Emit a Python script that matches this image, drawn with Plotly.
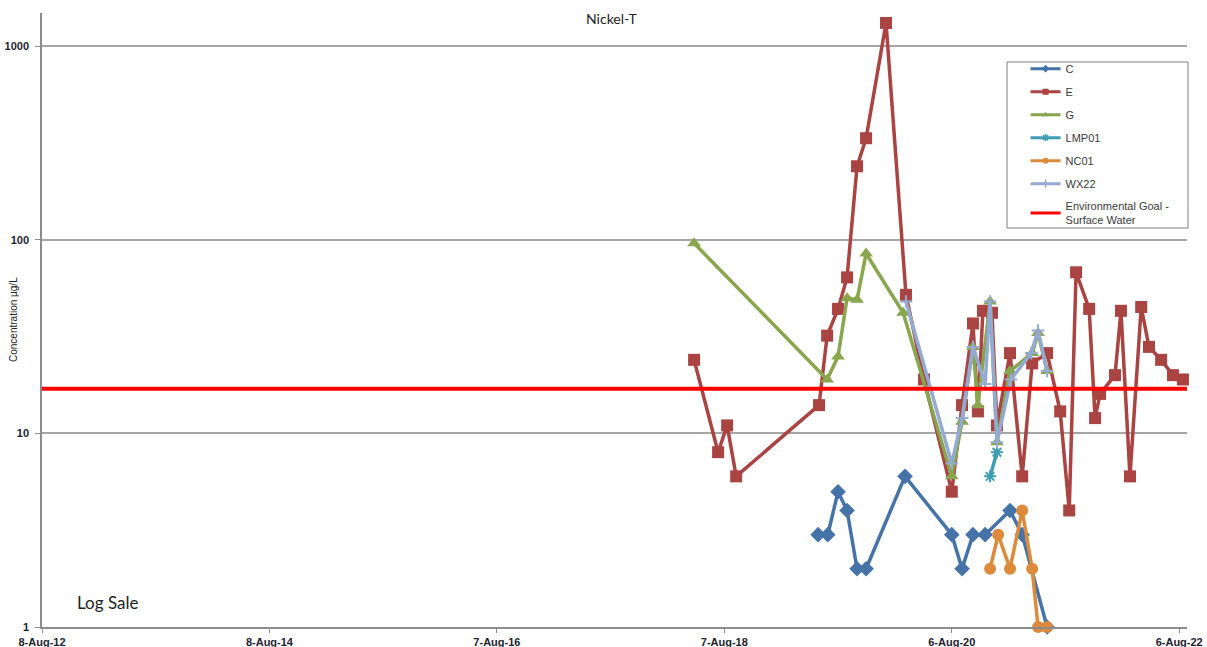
import plotly.graph_objects as go

# ---------------- data ----------------
dates_C = ["2019-06-04", "2019-07-05", "2019-08-07", "2019-09-05", "2019-10-07", "2019-11-05",
           "2020-03-09", "2020-08-06", "2020-09-08", "2020-10-13", "2020-11-21", "2021-02-09",
           "2021-03-20", "2021-06-08"]
vals_C = [3, 3, 5, 4, 2, 2, 6, 3, 2, 3, 3, 4, 3, 1]

dates_E = ["2018-05-02", "2018-07-18", "2018-08-16", "2018-09-14", "2019-06-07", "2019-07-03",
           "2019-08-07", "2019-09-05", "2019-10-07", "2019-11-05", "2020-01-08", "2020-03-12",
           "2020-05-09", "2020-08-06", "2020-09-08", "2020-10-13", "2020-10-29", "2020-11-14",
           "2020-12-13", "2020-12-29", "2021-02-09", "2021-03-20", "2021-04-21", "2021-06-08",
           "2021-07-20", "2021-08-18", "2021-09-09", "2021-10-21", "2021-11-09", "2021-11-25",
           "2022-01-12", "2022-01-31", "2022-03-01", "2022-04-06", "2022-05-01", "2022-06-09",
           "2022-07-17", "2022-08-18"]
vals_E = [24, 8, 11, 6, 14, 32, 44, 64, 240, 335, 1320, 52, 19, 5, 14, 37, 13, 43, 42, 11,
          26, 6, 23, 26, 13, 4, 68, 44, 12, 16, 20, 43, 6, 45, 28, 24, 20, 19]

dates_G = ["2018-05-02", "2019-07-03", "2019-08-07", "2019-09-05", "2019-10-07", "2019-11-05",
           "2020-03-03", "2020-08-06", "2020-09-08", "2020-10-13", "2020-10-29", "2020-12-07",
           "2020-12-29", "2021-02-09", "2021-04-21", "2021-05-10", "2021-06-08"]
vals_G = [96, 19, 25, 50, 49, 85, 42, 6, 11.5, 28, 14, 48, 9, 21, 26, 33, 21]

dates_LMP01 = ["2020-12-07", "2020-12-29"]
vals_LMP01 = [6, 8]

dates_NC01 = ["2020-12-07", "2021-01-02", "2021-02-09", "2021-03-20", "2021-04-21",
              "2021-05-10", "2021-06-08"]
vals_NC01 = [2, 3, 2, 4, 2, 1, 1]

dates_WX22 = ["2020-03-12", "2020-08-06", "2020-09-08", "2020-10-13", "2020-11-21",
              "2020-12-07", "2020-12-29", "2021-02-12", "2021-04-18", "2021-05-10", "2021-06-08"]
vals_WX22 = [48, 7, 12, 28, 18, 48, 9, 19, 26, 34, 21]

env_goal = 17
x_range = ["2012-08-08", "2022-08-31"]

x_tickvals = ["2012-08-08", "2014-08-08", "2016-08-07", "2018-08-07", "2020-08-06", "2022-08-06"]
x_ticktext = ["8-Aug-12", "8-Aug-14", "7-Aug-16", "7-Aug-18", "6-Aug-20", "6-Aug-22"]
y_tickvals = [1, 10, 100, 1000]
y_ticktext = ["1", "10", "100", "1000"]

# ---------------- styles ----------------
series = [
    ("C", dates_C, vals_C, "#4573A8", "diamond", 12),
    ("E", dates_E, vals_E, "#A94442", "square", 12),
    ("G", dates_G, vals_G, "#89A54E", "triangle-up", 12),
    ("LMP01", dates_LMP01, vals_LMP01, "#3F9DB3", "asterisk-open", 10),
    ("NC01", dates_NC01, vals_NC01, "#DD8A3C", "circle", 12),
    ("WX22", dates_WX22, vals_WX22, "#93AAD2", "cross-thin-open", 9),
]

fig = go.Figure()

for name, xs, ys, color, sym, size in series:
    open_sym = sym.endswith("open")
    fig.add_trace(go.Scatter(
        x=xs, y=ys, name=name, mode="lines+markers",
        line=dict(color=color, width=3.5),
        marker=dict(symbol=sym, size=size, color=color,
                    line=dict(color=color, width=2 if open_sym else 0)),
        showlegend=False, cliponaxis=False,
    ))

fig.add_trace(go.Scatter(
    x=x_range, y=[env_goal, env_goal], mode="lines",
    name="Environmental Goal -<br>Surface Water",
    line=dict(color="#FF0000", width=4), showlegend=False,
))

# legend-only entries with small markers
for name, xs, ys, color, sym, size in series:
    open_sym = sym.endswith("open")
    fig.add_trace(go.Scatter(
        x=[None], y=[None], name=name, mode="lines+markers", legendgroup=name,
        line=dict(color=color, width=3),
        marker=dict(symbol=sym, size=6, color=color,
                    line=dict(color=color, width=1.5 if open_sym else 0)),
    ))
fig.add_trace(go.Scatter(
    x=[None], y=[None], mode="lines", legendgroup="env",
    name="Environmental Goal -<br>Surface Water",
    line=dict(color="#FF0000", width=3),
))

axis_font = dict(family="Liberation Sans, Arial", size=11, color="#1e1e2e", weight="bold")

fig.update_layout(
    width=1207, height=647,
    margin=dict(l=42, r=20, t=13, b=20, autoexpand=False),
    paper_bgcolor="white", plot_bgcolor="white",
    showlegend=True,
    legend=dict(
        x=0.859, y=0.933, xanchor="left", yanchor="top",
        bgcolor="rgba(0,0,0,0)", borderwidth=0,
        font=dict(family="Liberation Sans, Arial", size=11, color="#3a3a3a"),
        tracegroupgap=4, itemwidth=30,
    ),
    xaxis=dict(
        type="date", range=x_range, automargin=False,
        tickvals=x_tickvals, ticktext=x_ticktext,
        showgrid=False, zeroline=False,
        showline=True, linecolor="#8c8c8c", linewidth=1.5,
        ticks="outside", ticklen=4, tickcolor="#8c8c8c",
        tickfont=axis_font,
    ),
    yaxis=dict(
        type="log", range=[0, 3.172], automargin=False,
        tickvals=y_tickvals, ticktext=y_ticktext,
        showgrid=True, gridcolor="#a6a6a6", gridwidth=1.5,
        zeroline=False,
        showline=True, linecolor="#8c8c8c", linewidth=1.5,
        ticks="outside", ticklen=5, tickcolor="#8c8c8c",
        ticklabelstandoff=4,
        tickfont=axis_font,
    ),
    shapes=[dict(type="rect", xref="paper", yref="paper",
                 x0=(1007 - 42) / 1145, x1=(1188 - 42) / 1145,
                 y0=(627 - 228) / 614, y1=(627 - 62) / 614,
                 line=dict(color="#7f7f7f", width=1), fillcolor="rgba(0,0,0,0)")],
    annotations=[
        dict(text="Nickel-T", xref="paper", yref="paper", x=(611 - 42) / 1145, y=(627 - 18) / 614,
             showarrow=False, xanchor="center", yanchor="middle",
             font=dict(family="Lato, Open Sans", size=14, color="#222222")),
        dict(text="Concentration µg/L", xref="paper", yref="paper", x=(13 - 42) / 1145, y=0.5,
             textangle=-90, showarrow=False, xanchor="center", yanchor="middle",
             font=dict(family="Liberation Sans, Arial", size=10, color="#222222")),
        dict(text="Log Sale", xref="paper", yref="paper", x=(75 - 42) / 1145, y=(627 - 602) / 614,
             showarrow=False, xanchor="left", yanchor="middle",
             font=dict(family="Lato, Open Sans", size=17, color="#222222")),
    ],
)

fig.write_html("out.html")
